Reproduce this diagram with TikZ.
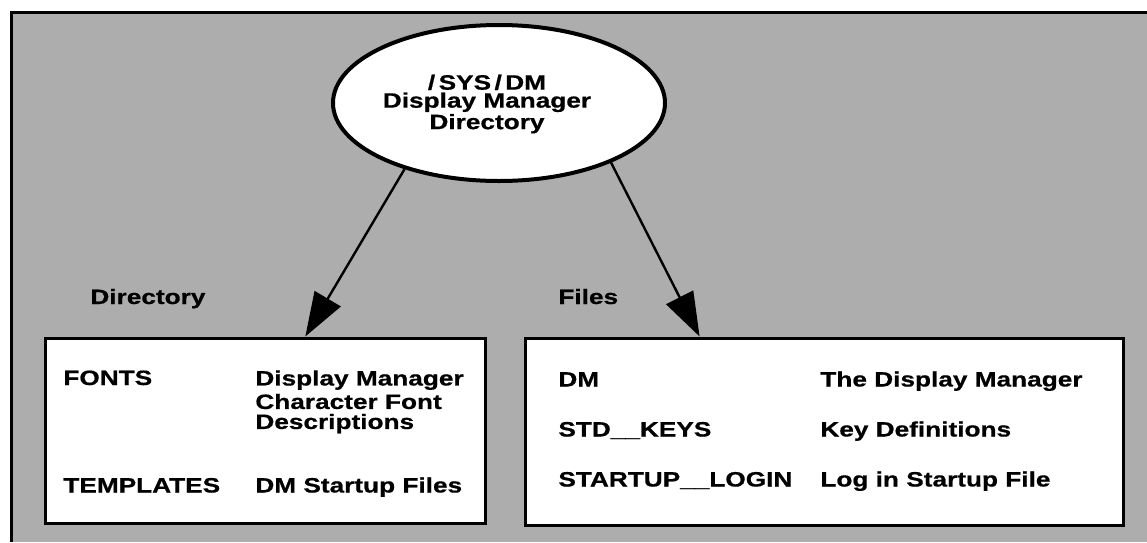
\documentclass[tikz,border=0pt]{standalone}
\usepackage{fontspec}
\setmainfont{Liberation Sans}[FakeStretch = 1.26, FakeBold = 0.7]
\usetikzlibrary{shapes.geometric, arrows.meta, calc}

\begin{document}
\begin{tikzpicture}[x = 0.5pt, y = -0.5pt,
		every node/.style = {font = \fontsize{10.4}{9}\selectfont\bfseries, inner sep = 0pt},
		entry/.style = {anchor = base west},
		listbox/.style = {draw, line width = 1.5pt, fill = white},
		pointer/.style = {line width = 1.2pt, -{Triangle[length = 22pt, width = 15pt]}}]
		\useasboundingbox (0, 0) rectangle (1147, 542) ;
		\begin{scope} % Panel
			\fill [black!32] (11, 12) rectangle (1147, 542) ;
			\draw [line width = 1.5pt] (11, 542) -- (11, 12) -- (1147, 12) ;
		\end{scope}
		\node [ellipse, draw, fill = white, line width = 2pt, minimum width = 166pt, minimum height = 78pt] (dm) at (499, 103) {} ;
		\node [align = center] (dmtext) at (487, 104) {/\,SYS\,/\,DM\\Display Manager\\Directory} ;
		\node [listbox, minimum width = 220pt, minimum height = 92.5pt] (dirbox) at (265, 430.5) {} ;
		\node [listbox, minimum width = 299pt, minimum height = 93.5pt] (filebox) at (824, 431.5) {} ;
		\node [entry] (dirlabel) at (90, 304) {Directory} ;
		\node [entry] (filelabel) at (558, 304) {Files} ;
		% Directory entries
		\node [entry] (fonts) at (63, 385) {FONTS} ;
		\node [anchor = north west, align = left] (fontsdesc) at (255, 370) {Display Manager\\[1pt]Character Font\\[1pt]Descriptions} ;
		\node [entry] (templates) at (63, 492.5) {TEMPLATES} ;
		\node [entry] (templatesdesc) at (255, 492.5) {DM Startup Files} ;
		% File entries
		\node [entry] (dmfile) at (558, 386.5) {DM} ;
		\node [entry] (dmdesc) at (820, 386.5) {The Display Manager} ;
		\node [entry] (keys) at (558, 436.5) {STD\_\_KEYS} ;
		\node [entry] (keysdesc) at (820, 436.5) {Key Definitions} ;
		\node [entry] (login) at (558, 486.5) {STARTUP\_\_LOGIN} ;
		\node [entry] (logindesc) at (820, 486.5) {Log in Startup File} ;
		\draw [pointer] (dm.215) -- ($(dirbox.north west)!0.591!(dirbox.north east)$) ;
		\draw [pointer] (dm.332) -- ($(filebox.north west)!0.293!(filebox.north east)$) ;
	\end{tikzpicture}
\end{document}
